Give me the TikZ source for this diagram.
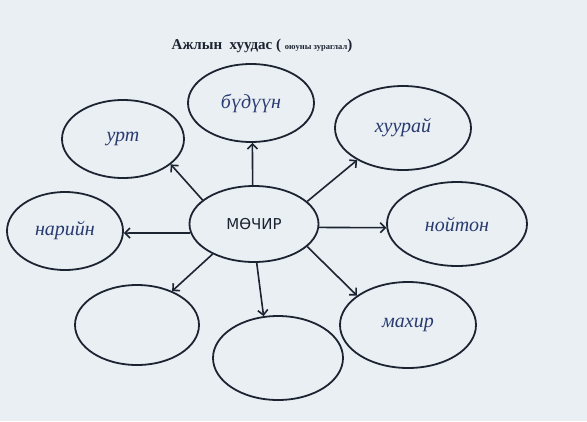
\documentclass[tikz,border=0pt]{standalone}
\usepackage{fontspec}
\setmainfont{Liberation Serif}
\newfontfamily\capsfont{DejaVu Sans}
\usepackage{xcolor}
\usetikzlibrary{
  arrows.meta,
  shapes.geometric
}
\definecolor{paper}{RGB}{234,239,243}
\definecolor{ink}{RGB}{28,36,50}
\definecolor{pen}{RGB}{40,58,112}

\begin{document}
\begin{tikzpicture}[x=1pt, y=-1pt, >=Stealth,
  bubble/.style={draw=ink,line width=1.8pt,ellipse,inner sep=0pt},
  hand/.style={text=pen,font=\itshape\fontsize{20}{20}\selectfont},
  link/.style={-{Straight Barb[length=5pt,width=10pt]},draw=ink,line width=1.6pt}]
\fill[paper] (0,0) rectangle (587,421);
\useasboundingbox (0,0) rectangle (587,421);
\node[font=\bfseries\fontsize{15}{17}\selectfont,text=ink] (title) at (262,46) {Ажлын\ \ хуудас ( {\fontsize{8.5}{10}\selectfont оюуны зураглал}{\fontsize{15}{17}\selectfont)}};
\node[bubble,minimum width=129pt,minimum height=76pt,font=\capsfont\fontsize{15}{15}\selectfont,text=ink] (mochir) at (254,224) {МӨЧИР};
\node[bubble,minimum width=122pt,minimum height=78pt,hand] (urt) at (123,139) {урт};
\node[bubble,minimum width=126pt,minimum height=78pt,hand] (budvvn) at (251,103) {бүдүүн};
\node[bubble,minimum width=136pt,minimum height=84pt,hand] (khuurai) at (403,128) {хуурай};
\node[bubble,minimum width=116pt,minimum height=78pt,hand] (nariin) at (65,231) {нарийн};
\node[bubble,minimum width=140pt,minimum height=84pt,hand] (noiton) at (457,224) {нойтон};
\node[bubble,minimum width=124pt,minimum height=80pt] (blankl) at (137,325) {};
\node[bubble,minimum width=130pt,minimum height=84pt] (blankm) at (278,358) {};
\node[bubble,minimum width=136pt,minimum height=86pt,hand] (makhir) at (408,325) {махир};
% arrows from the centre
\draw[link] (mochir.155) -- (urt.-28);
\draw[link] (mochir.92) -- (budvvn.-88);
\draw[link] (mochir.23) -- (khuurai.215);
\draw[link] (mochir.188) -- (nariin.-2);
\draw[link] (mochir.-3) -- (noiton.183);
\draw[link] (mochir.216) -- (blankl.44);
\draw[link] (mochir.-86) -- (blankm.109);
\draw[link] (mochir.-23) -- (makhir.150);
\end{tikzpicture}
\end{document}
